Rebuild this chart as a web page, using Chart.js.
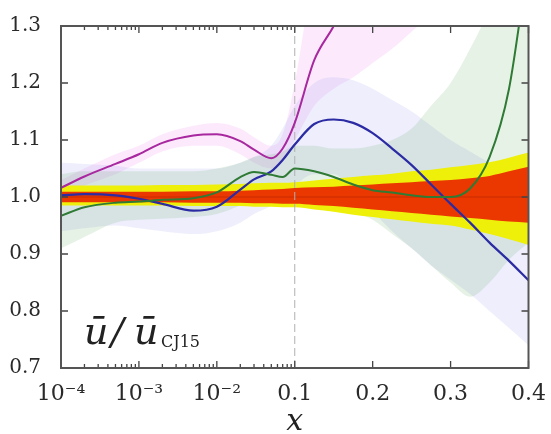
<!DOCTYPE html>
<html>
<head>
<meta charset="utf-8">
<script src="https://cdn.jsdelivr.net/npm/chart.js@4.4.0/dist/chart.umd.min.js"></script>
<style>
  html, body { margin: 0; padding: 0; background: #fff; }
  canvas { display: block; }
</style>
</head>
<body>
<canvas id="ratio" width="551" height="434"></canvas>
<script>
// sample points along x (real units)
const xVals = [1e-4, 2e-4, 5e-4, 1e-3, 2e-3, 5e-3, 1e-2, 2e-2, 3e-2, 5e-2, 7e-2, 0.1,
               0.125, 0.15, 0.175, 0.2, 0.225, 0.25, 0.275, 0.3, 0.325, 0.35, 0.375, 0.4];

// central lines
const magentaLine = [1.016, 1.036, 1.058, 1.075, 1.095, 1.108, 1.110, 1.098, 1.083, 1.068, 1.085, 1.13,
                     1.24, 1.30, 1.37, 1.44, null, null, null, null, null, null, null, null];
const blueLine = [1.003, 1.005, 1.003, 0.997, 0.988, 0.976, 0.983, 1.013, 1.031, 1.045, 1.065, 1.092,
                  1.128, 1.136, 1.13, 1.112, 1.085, 1.056, 1.022, 0.988, 0.955, 0.92, 0.888, 0.854];
const greenLine = [0.967, 0.982, 0.99, 0.992, 0.995, 0.998, 1.008, 1.035, 1.044, 1.039, 1.035, 1.05,
                   1.045, 1.035, 1.022, 1.012, 1.008, 1.003, 1.0, 1.0, 1.015, 1.07, 1.19, 1.42];
const cjCentral = [1, 1, 1, 1, 1, 1, 1, 1, 1, 1, 1, 1, 1, 1, 1, 1, 1, 1, 1, 1, 1, 1, 1, 1];

// CJ15 bands
const redUpper = [1.009, 1.009, 1.009, 1.009, 1.009, 1.01, 1.01, 1.011, 1.012, 1.013, 1.014, 1.016,
                  1.017, 1.018, 1.02, 1.022, 1.024, 1.026, 1.028, 1.03, 1.033, 1.037, 1.045, 1.053];
const redLower = [0.991, 0.991, 0.991, 0.991, 0.991, 0.99, 0.99, 0.99, 0.989, 0.989, 0.988, 0.988,
                  0.986, 0.984, 0.981, 0.978, 0.975, 0.972, 0.969, 0.966, 0.963, 0.96, 0.957, 0.955];
const yellowUpper = [1.02, 1.02, 1.02, 1.02, 1.021, 1.021, 1.022, 1.023, 1.024, 1.025, 1.025, 1.026,
                     1.029, 1.032, 1.035, 1.038, 1.041, 1.045, 1.048, 1.052, 1.056, 1.061, 1.069, 1.078];
const yellowLower = [0.985, 0.985, 0.985, 0.985, 0.985, 0.984, 0.984, 0.984, 0.983, 0.983, 0.982, 0.982,
                     0.978, 0.974, 0.969, 0.965, 0.961, 0.957, 0.953, 0.95, 0.943, 0.935, 0.926, 0.916];

// other fits' bands
const blueUpper = [1.06, 1.058, 1.055, 1.05, 1.05, 1.05, 1.05, 1.06, 1.07, 1.09, 1.12, 1.16,
                   1.2, 1.21, 1.205, 1.19, 1.17, 1.15, 1.125, 1.1, 1.08, 1.06, 1.04, 1.02];
const blueLower = [0.94, 0.945, 0.95, 0.945, 0.94, 0.935, 0.94, 0.955, 0.97, 0.985, 1.0, 1.02,
                   1.04, 1.04, 1.01, 0.975, 0.94, 0.91, 0.88, 0.855, 0.83, 0.8, 0.77, 0.74];
const greenUpper = [1.04, 1.045, 1.045, 1.045, 1.045, 1.045, 1.05, 1.06, 1.07, 1.075, 1.08, 1.09,
                    1.09, 1.085, 1.085, 1.09, 1.1, 1.12, 1.16, 1.2, 1.26, 1.33, 1.42, 1.5];
const greenLower = [0.91, 0.93, 0.955, 0.96, 0.962, 0.965, 0.97, 0.985, 0.995, 1.0, 1.005, 1.005,
                    1.0, 0.99, 0.975, 0.96, 0.935, 0.91, 0.88, 0.85, 0.825, 0.85, 0.89, 0.92];
const pinkUpper = [1.03, 1.05, 1.075, 1.09, 1.11, 1.125, 1.13, 1.12, 1.105, 1.09, 1.11, 1.2,
                   1.4, 1.5, 1.5, 1.5, 1.5, 1.5, 1.5, null, null, null, null, null];
const pinkLower = [1.0, 1.02, 1.04, 1.06, 1.08, 1.09, 1.09, 1.075, 1.06, 1.05, 1.065, 1.1,
                   1.16, 1.19, 1.21, 1.235, 1.26, 1.29, 1.32, null, null, null, null, null];

// reference line at x = 0.1
const splitX = 0.1;
const yRange = [0.7, 1.3];

// axis ticks
const xTickVals = [1e-4, 1e-3, 1e-2, 0.1, 0.2, 0.3, 0.4];
const xTickLabels = ['10⁻⁴', '10⁻³', '10⁻²', '0.1', '0.2', '0.3', '0.4'];
const yTickVals = [0.7, 0.8, 0.9, 1.0, 1.1, 1.2, 1.3];

// log below 0.1, linear above: each decade / each 0.1 gets one unit
function toT(x) {
  return x <= 0.1 ? Math.log10(x) + 4 : 3 + (x - 0.1) / 0.1;
}
function pts(ys) {
  return xVals.map((x, i) => ({ x: toT(x), y: ys[i] }));
}

const SERIF = '"DejaVu Serif", "Liberation Serif", serif';

function band(upper, lower, color, order) {
  return [
    { data: pts(upper), fill: '+1', backgroundColor: color, borderWidth: 0,
      borderColor: 'transparent', pointRadius: 0, cubicInterpolationMode: 'monotone', order: order },
    { data: pts(lower), fill: false, borderWidth: 0, borderColor: 'transparent',
      pointRadius: 0, cubicInterpolationMode: 'monotone', order: order }
  ];
}
function line(ys, color, width, order) {
  return { data: pts(ys), fill: false, borderColor: color, borderWidth: width,
           pointRadius: 0, cubicInterpolationMode: 'monotone', order: order };
}

const datasets = [
  line(greenLine, '#2f7a34', 2, 1),
  line(blueLine, '#2b2ba3', 2.2, 2),
  line(magentaLine, '#a8289f', 2, 3),
  { data: [{ x: toT(splitX), y: yRange[0] }, { x: toT(splitX), y: yRange[1] }],
    borderColor: '#b0b0b0', borderWidth: 1, borderDash: [8, 4], pointRadius: 0, fill: false, order: 4 },
  line(cjCentral, 'rgba(150,30,0,0.4)', 1, 5),
  ...band(redUpper, redLower, 'rgb(234,56,0)', 6),
  ...band(yellowUpper, yellowLower, 'rgb(238,240,10)', 7),
  ...band(greenUpper, greenLower, 'rgba(80,160,80,0.14)', 8),
  ...band(blueUpper, blueLower, 'rgba(120,120,230,0.13)', 9),
  ...band(pinkUpper, pinkLower, 'rgba(235,130,235,0.17)', 10)
];

// inward ticks, frame and the in-plot label
const framePlugin = {
  id: 'frame',
  afterDatasetsDraw(chart) {
    const { ctx, chartArea: a, scales } = chart;
    const xs = scales.x, ys = scales.y;
    ctx.save();
    ctx.strokeStyle = '#444';
    ctx.lineWidth = 1.3;
    const tick = (px, len, horizontal) => {
      ctx.beginPath();
      if (horizontal) {
        ctx.moveTo(px, a.bottom); ctx.lineTo(px, a.bottom - len);
        ctx.moveTo(px, a.top); ctx.lineTo(px, a.top + len);
      } else {
        ctx.moveTo(a.left, px); ctx.lineTo(a.left + len, px);
        ctx.moveTo(a.right, px); ctx.lineTo(a.right - len, px);
      }
      ctx.stroke();
    };
    xTickVals.forEach(v => tick(xs.getPixelForValue(toT(v)), 7, true));
    for (let d = 1e-4; d < 0.1; d *= 10) {
      for (let m = 2; m <= 9; m++) tick(xs.getPixelForValue(toT(m * d)), 4, true);
    }
    yTickVals.forEach(v => tick(ys.getPixelForValue(v), 7, false));

    ctx.lineWidth = 2;
    ctx.strokeStyle = '#555';
    ctx.strokeRect(a.left, a.top, a.right - a.left, a.bottom - a.top);

    // label u-bar ratio
    ctx.fillStyle = '#222';
    ctx.textBaseline = 'alphabetic';
    ctx.font = 'italic 38px ' + SERIF;
    const bx = a.left + 23, by = a.bottom - 24;
    ctx.fillText('ū', bx, by);
    ctx.fillText('/', bx + 27, by);
    ctx.fillText('ū', bx + 50, by);
    ctx.font = '16px ' + SERIF;
    ctx.fillText('CJ15', bx + 77, by + 3);
    ctx.restore();
  }
};

new Chart(document.getElementById('ratio'), {
  type: 'line',
  data: { datasets: datasets },
  options: {
    responsive: false,
    animation: false,
    devicePixelRatio: 1,
    layout: { padding: { left: 0, right: 22, top: 26, bottom: 0 } },
    plugins: { legend: { display: false }, tooltip: { enabled: false } },
    scales: {
      x: {
        type: 'linear',
        min: 0,
        max: 6,
        afterBuildTicks: s => { s.ticks = xTickVals.map(v => ({ value: toT(v) })); },
        afterFit: s => { s.height = 66; },
        grid: { display: false },
        border: { display: false },
        ticks: {
          autoSkip: false,
          maxRotation: 0,
          padding: 5,
          color: '#2a2a2a',
          font: { family: SERIF, size: 22 },
          callback: (v, i) => xTickLabels[i]
        },
        title: {
          display: true,
          text: 'x',
          color: '#222',
          font: { family: SERIF, size: 30, style: 'italic' },
          padding: { top: 0, bottom: -6 }
        }
      },
      y: {
        type: 'linear',
        min: yRange[0],
        max: yRange[1],
        afterBuildTicks: s => { s.ticks = yTickVals.map(v => ({ value: v })); },
        afterFit: s => { s.width = 61; },
        grid: { display: false },
        border: { display: false },
        ticks: {
          padding: 12,
          color: '#2a2a2a',
          font: { family: SERIF, size: 20 },
          callback: v => Number(v).toFixed(1)
        }
      }
    }
  },
  plugins: [framePlugin]
});
</script>
</body>
</html>
